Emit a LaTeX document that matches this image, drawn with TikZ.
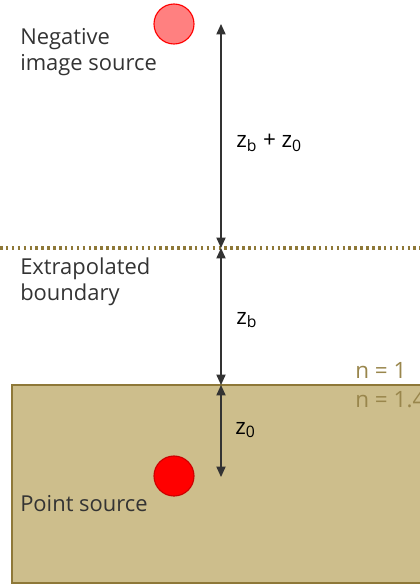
\documentclass[tikz,border=0pt]{standalone}
\usepackage{fontspec}
\setmainfont{Open Sans}
\usepackage{tikz}
\usetikzlibrary{arrows.meta,positioning}
\definecolor{olive1}{RGB}{142,120,56}
\definecolor{sand}{RGB}{205,190,140}
\definecolor{ink}{RGB}{51,51,51}
\definecolor{pink1}{RGB}{255,128,128}
\tikzset{
  src/.style ={circle,draw=red,thick,minimum size=10mm,inner sep=0pt},
  lab/.style ={anchor=north west,align=left,text=ink,font=\fontsize{15.6}{18.5}\selectfont,inner sep=0pt},
  dim/.style ={anchor=west,text=black,font=\fontsize{16}{18}\selectfont,inner sep=0pt},
  idx/.style ={anchor=west,text=olive1!90!white,font=\fontsize{16}{18}\selectfont,inner sep=0pt},
  ar/.style  ={{Triangle[length=2.6mm,width=2.3mm]}-{Triangle[length=2.6mm,width=2.3mm]},line width=0.9pt,ink},
  bound/.style={olive1,line width=2.2pt,dash pattern=on 1.8pt off 2.4pt},
}
\begin{document}
\begin{tikzpicture}[x=0.025cm,y=-0.025cm]
  \useasboundingbox (0,0) rectangle (420,585);
  \clip (0,0) rectangle (420,585);
  % tissue block and extrapolated boundary
  \draw[olive1,line width=2.1pt,fill=sand] (12,385) rectangle (440,583);
  \draw[bound] (0,248) -- (420,248);
  % sources
  \node[src,fill=pink1] (img) at (174,24){};
  \node[src,fill=red,draw=red!80!black] (pt) at (174,476){};
  % points on the depth axis
  \coordinate (top) at (221,24);
  \coordinate (ext) at (221,248);
  \coordinate (surf) at (221,385);
  \coordinate (dep) at (221,477);
  \draw[ar] (top) -- (ext);
  \draw[ar] (ext) -- (surf);
  \draw[ar] (surf) -- (dep);
  % labels
  \node[lab] (limg) at (20,28){Negative\\image source};
  \node[lab] (lext) at (20,258){Extrapolated\\boundary};
  \node[lab] (lpt) at (20,495){Point source};
  \node[dim] (d1) at (236,143){z\textsubscript{b} + z\textsubscript{0}};
  \node[dim] (d2) at (236,320){z\textsubscript{b}};
  \node[dim] (d3) at (235,430){z\textsubscript{0}};
  \node[idx] (n1) at (355,370){n = 1};
  \node[idx] (n2) at (355,400){n = 1.4};
\end{tikzpicture}
\end{document}
